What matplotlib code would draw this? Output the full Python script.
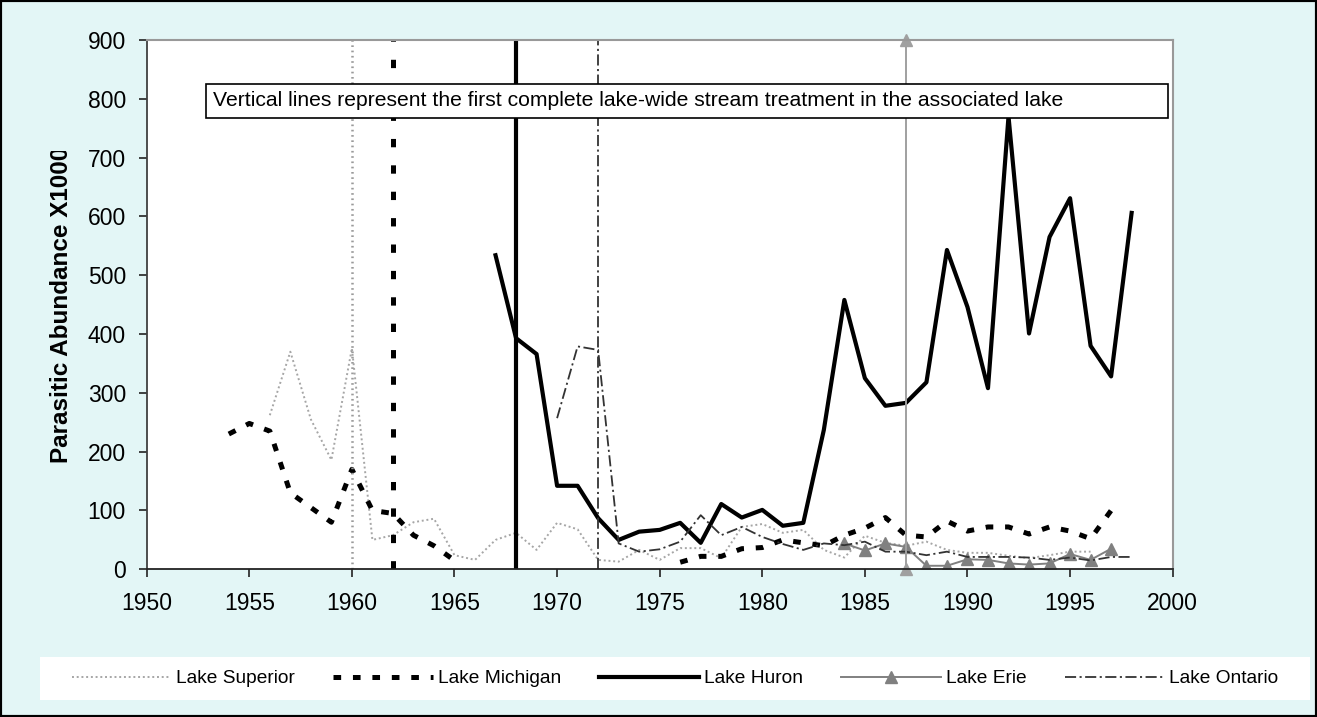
import numpy as np
import matplotlib
matplotlib.use("Agg")
from matplotlib import pyplot as plt
from matplotlib.patches import Rectangle
from matplotlib.transforms import Bbox, TransformedBbox

plt.rcParams['font.family'] = ['Liberation Sans', 'DejaVu Sans']
plt.rcParams['lines.scale_dashes'] = False

nan = np.nan

# --- data ---
superior_years = list(range(1956, 1997))
superior_vals = [262, 370, 255, 186, 376, 50, 58, 80, 86, 24, 16, 50, 62, 33, 79, 68,
                 16, 13, 33, 16, 36, 36, 19, 72, 77, 62, 67, 33, 20, 57, 45, 40, 47,
                 33, 28, 28, 23, 19, 24, 30, 30]

michigan_years = list(range(1954, 1998))
michigan_vals = [230, 248, 235, 130, 105, 80, 170, 100, 95, 58, 40, 15,
                 nan, nan, nan, nan, nan, nan, nan, nan, nan, nan,
                 12, 22, 22, 35, 37, 50, 45, 40, 58, 70, 88, 58, 55, 82, 65, 72,
                 72, 60, 72, 65, 52, 100]

huron_years = list(range(1967, 1999))
huron_vals = [534, 393, 366, 142, 142, 87, 50, 64, 67, 79, 45, 111, 88, 101, 74, 79,
              237, 458, 325, 278, 283, 318, 543, 446, 308, 770, 401, 565, 631, 380,
              328, 606]

erie_years = list(range(1984, 1998))
erie_vals = [44, 32, 44, 38, 6, 6, 17, 16, 10, 8, 10, 26, 16, 35]

ontario_years = list(range(1970, 1999))
ontario_vals = [257, 379, 373, 44, 30, 34, 47, 92, 58, 72, 55, 43, 33, 44, 41, 47, 30,
                30, 24, 30, 21, 21, 21, 20, 16, 20, 15, 21, 21]

# first complete lake-wide stream treatment
treat_years = {'Superior': 1960, 'Michigan': 1962, 'Huron': 1968, 'Erie': 1987, 'Ontario': 1972}

note = "Vertical lines represent the first complete lake-wide stream treatment in the associated lake"

bg = '#E3F6F6'
fig = plt.figure(figsize=(13.17, 7.17), dpi=100, facecolor=bg)
ax = fig.add_axes([0.1114, 0.206, 0.7790, 0.7382])
ax.set_facecolor('white')

sup_style = dict(color='#A6A6A6', lw=1.4, dashes=(1.4, 2.0))
mich_style = dict(color='black', lw=3.6, dashes=(5.5, 8.5))
huron_style = dict(color='black', lw=3.0)
erie_style = dict(color='#808080', lw=1.4, marker='^', ms=9, mec='#808080', mfc='#808080')
ont_style = dict(color='#333333', lw=1.3, dashes=(8, 2.5, 1.5, 2.5))

ax.plot(superior_years, superior_vals, label='Lake Superior', **sup_style)
ax.plot(michigan_years, michigan_vals, label='Lake Michigan', **mich_style)
ax.plot(huron_years, huron_vals, label='Lake Huron', **huron_style)
ax.plot(erie_years, erie_vals, label='Lake Erie', **erie_style)
ax.plot(ontario_years, ontario_vals, label='Lake Ontario', **ont_style)

# vertical treatment lines
ax.plot([treat_years['Superior']] * 2, [0, 900], color='#9A9A9A', lw=1.8, dashes=(1.2, 2.6))
ax.plot([treat_years['Michigan']] * 2, [0, 900], color='black', lw=3.6, dashes=(6, 13))
ax.plot([treat_years['Huron']] * 2, [0, 900], color='black', lw=3.0)
ax.plot([treat_years['Ontario']] * 2, [0, 900], color='#333333', lw=1.3, dashes=(8, 2.5, 1.5, 2.5))
ax.plot([treat_years['Erie']] * 2, [0, 900], color='#A0A0A0', lw=1.4, marker='^', ms=9,
        mec='#A0A0A0', mfc='#A0A0A0', clip_on=False)

ax.set_xlim(1950, 2000)
ax.set_ylim(0, 900)
ax.set_xticks(np.arange(1950, 2001, 5))
ax.set_yticks(np.arange(0, 901, 100))
ax.tick_params(axis='both', labelsize=16.5, direction='out', length=6, width=1.2, colors='#222222',
               labelcolor='black')
ax.tick_params(axis='y', pad=9)
ax.tick_params(axis='x', pad=10)

for side in ['top', 'right']:
    ax.spines[side].set_color('#999999')
    ax.spines[side].set_linewidth(1.5)
ax.spines['left'].set_color('#404040')
ax.spines['bottom'].set_color('#222222')
ax.spines['left'].set_linewidth(1.3)
ax.spines['bottom'].set_linewidth(1.3)

# note box
ax.add_patch(Rectangle((0.0578, 0.8527), 0.9376, 0.0642, transform=ax.transAxes,
                       facecolor='white', edgecolor='black', lw=1.2, zorder=5))
ax.text(0.0646, 0.8848, note, transform=ax.transAxes, fontsize=15.2, va='center', ha='left',
        zorder=6)

# y label, clipped at the top like the original
ylab = fig.text(62 / 1317, 1 - 305 / 717, 'Parasitic Abundance X1000', rotation=90,
                fontsize=17.5, fontweight='bold', ha='center', va='center')
ylab.set_clip_box(TransformedBbox(Bbox([[0, 0], [1, 1 - 151 / 717]]), fig.transFigure))
ylab.set_clip_on(True)

# legend strip
fig.add_artist(Rectangle((40 / 1317, 1 - 700 / 717), 1270 / 1317, 43 / 717,
                         transform=fig.transFigure, facecolor='white', edgecolor='none'))
leg = fig.legend(loc='center', bbox_to_anchor=(40 / 1317, 1 - 700 / 717, 1270 / 1317, 43 / 717),
                 ncol=5, fontsize=13.8, frameon=False,
                 handlelength=5.2, handletextpad=0.25, columnspacing=2.0, borderaxespad=0)

fig.add_artist(Rectangle((0, 0), 1, 1, transform=fig.transFigure, fill=False,
                         edgecolor='black', lw=3))

fig.savefig('out.png', dpi=100, facecolor=bg)
